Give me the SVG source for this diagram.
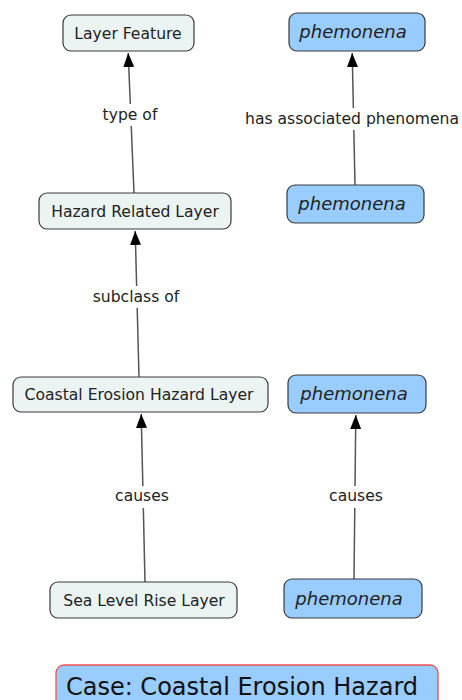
<svg xmlns="http://www.w3.org/2000/svg" width="462" height="700" viewBox="0 0 462 700">
<style>
.n rect{stroke:#3a3a3a;stroke-width:1.2}
.g rect{fill:#ebf3f3}
.b rect{fill:#99ccff}
.t{font-family:"DejaVu Sans",Verdana,sans-serif;font-size:15.6px;fill:#222;text-anchor:middle}
.i{font-style:italic;font-size:18px}
.l{font-family:"DejaVu Sans",Verdana,sans-serif;font-size:15.6px;fill:#222;text-anchor:middle}
.c line{stroke:#555;stroke-width:1.5;marker-end:url(#ah)}
.c rect{fill:#fff}
</style>
<defs>
<marker id="ah" viewBox="0 0 14 11" refX="14" refY="5.5" markerWidth="14" markerHeight="11" markerUnits="userSpaceOnUse" orient="auto">
<path d="M0,0 L14,5.5 L0,11 z" fill="#000"/>
</marker>
</defs>
<g class="c" id="connectors">
<line x1="134" y1="193" x2="128.2" y2="53"/>
<rect x="96" y="104" width="68" height="22"/>
<text class="l" x="130" y="120">type of</text>
<line x1="355" y1="185" x2="352.2" y2="53"/>
<rect x="242" y="108" width="220" height="22"/>
<text class="l" x="352" y="124">has associated phenomena</text>
<line x1="139" y1="377" x2="135.2" y2="231"/>
<rect x="84" y="286" width="104" height="22"/>
<text class="l" x="136" y="302">subclass of</text>
<line x1="145" y1="582" x2="141.2" y2="414"/>
<rect x="106" y="486" width="70" height="22"/>
<text class="l" x="142" y="501">causes</text>
<line x1="354" y1="579" x2="355.8" y2="415"/>
<rect x="321" y="486" width="70" height="22"/>
<text class="l" x="356" y="501">causes</text>
</g>
<g id="layer-feature" class="n g"><rect x="63" y="15" width="131" height="36" rx="8"/><text class="t" x="128" y="38.5">Layer Feature</text></g>
<g id="phem-1" class="n b"><rect x="289" y="13" width="136" height="38" rx="8"/><text class="t i" x="353" y="38">phemonena</text></g>
<g id="hazard-related" class="n g"><rect x="39" y="193" width="192" height="36" rx="8"/><text class="t" x="135" y="216.5">Hazard Related Layer</text></g>
<g id="phem-2" class="n b"><rect x="287" y="185" width="137" height="38" rx="8"/><text class="t i" x="352" y="210">phemonena</text></g>
<g id="coastal-erosion" class="n g"><rect x="13" y="377" width="255" height="35" rx="8"/><text class="t" x="139" y="400">Coastal Erosion Hazard Layer</text></g>
<g id="phem-3" class="n b"><rect x="288" y="375" width="138" height="38" rx="8"/><text class="t i" x="354" y="400">phemonena</text></g>
<g id="sea-level" class="n g"><rect x="50" y="582" width="187" height="36" rx="8"/><text class="t" x="144" y="605.5">Sea Level Rise Layer</text></g>
<g id="phem-4" class="n b"><rect x="284" y="579" width="138" height="39" rx="8"/><text class="t i" x="349" y="605">phemonena</text></g>
<g id="case"><rect x="56" y="665" width="382" height="50" rx="8" fill="#99ccff" stroke="#f05050" stroke-width="1.3"/><text x="242" y="695" style="font-family:'DejaVu Sans',Verdana,sans-serif;font-size:24px;fill:#111;text-anchor:middle">Case: Coastal Erosion Hazard</text></g>
</svg>
